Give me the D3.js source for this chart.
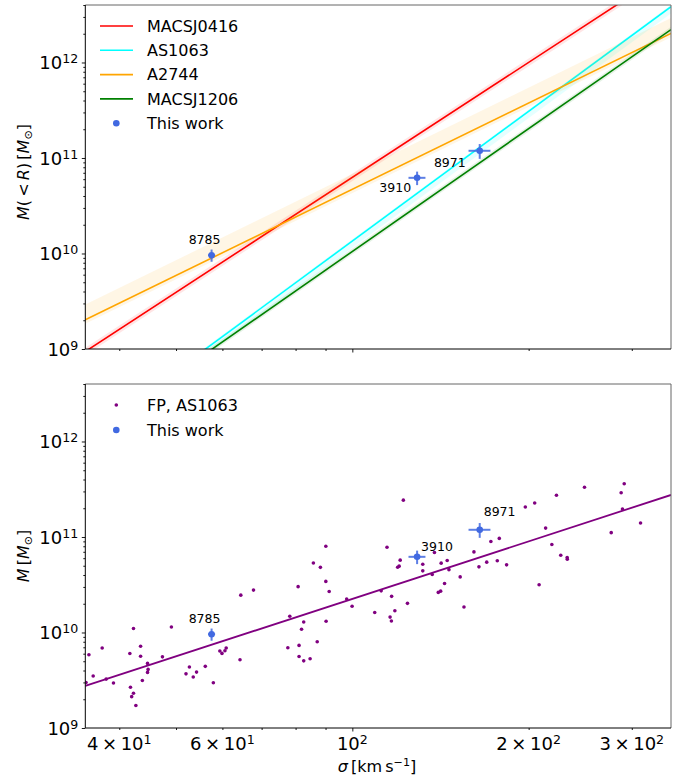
<!doctype html>
<html lang="en">
<head>
    <meta charset="utf-8">
    <title>M - sigma</title>
    <style type="text/css">
        html, body {
            margin: 0;
            background-color: #fff;
        }
        svg {
            font-family: "DejaVu Sans", sans-serif;
        }
    </style>
</head>
<body>
    <svg id="chart" width="687" height="782"></svg>

    <script src="https://cdn.jsdelivr.net/npm/d3@7"></script>
    <script>
        // scaling relations of the lens models (M at sigma = 100 km/s, log slope, band in dex)
        const relNames = ["MACSJ0416", "AS1063", "A2744", "MACSJ1206"];
        const relColors = ["red", "cyan", "orange", "green"];
        const relSlope = [4.0, 4.51, 3.0, 4.27];
        const relMassAt100 = [6.27e10, 1.35e10, 4.71e10, 1.05e10];
        const relBandLow = [0.04, 0.07, 0.04, 0.03];
        const relBandHigh = [0.04, 0.02, 0.16, 0.03];

        // our galaxies
        const objNames = ["8785", "3910", "8971"];
        const objSigma = [57.5, 129, 165];
        const objSigmaErr = [0.8, 4.3, 7.1];
        const objMass = [9.6e9, 6.2e10, 1.19e11];
        const objMassErr = [1.4e9, 1.0e10, 2.1e10];

        // fundamental plane masses, AS1063
        const fpSigma = [
            35.1, 35.5, 36.1, 37.4, 38.0, 39.1, 41.7, 42.3, 41.8, 42.3,
            42.0, 42.7, 43.5, 43.5, 43.8, 44.7, 44.8, 44.7, 47.4, 49.1,
            52.0, 52.7, 53.5, 54.2, 56.1, 57.9, 59.4, 59.9, 60.6, 60.9,
            64.3, 64.5, 67.8, 77.6, 78.2, 80.8, 81.1, 81.1, 81.9, 82.6,
            82.6, 84.7, 85.8, 87.1, 88.2, 90.1, 90.1, 90.2, 91.3, 97.8,
            99.9, 109.2, 112.0, 114.6, 116.0, 116.6, 116.7, 118.2, 119.5, 120.2,
            120.7, 122.2, 124.2, 131.9, 131.9, 136.9, 138.1, 140.2, 141.5, 141.8,
            143.7, 145.2, 146.2, 152.8, 155.1, 161.3, 164.5, 169.6, 172.4, 176.8,
            178.2, 183.4, 197.4, 204.8, 208.4, 213.8, 219.1, 223.1, 226.9, 232.7,
            232.8, 249.1, 276.7, 287.7, 289.2, 291.2, 310.5
        ];
        const fpMass = [
            3.0e9, 5.85e9, 3.5e9, 6.87e9, 3.25e9, 2.96e9, 6.02e9, 1.10e10, 2.67e9, 2.31e9,
            2.13e9, 1.72e9, 7.17e9, 5.64e9, 3.14e9, 4.75e9, 4.11e9, 3.82e9, 5.56e9, 1.14e10,
            3.69e9, 4.35e9, 3.42e9, 3.85e9, 4.42e9, 2.98e9, 6.39e9, 6.04e9, 6.44e9, 6.87e9,
            5.18e9, 2.46e10, 2.78e10, 6.92e9, 1.48e10, 3.02e10, 7.33e9, 5.6e9, 1.08e10, 1.29e10,
            5.05e9, 5.31e9, 5.35e10, 7.99e9, 4.81e10, 8.01e10, 3.43e10, 1.31e10, 2.69e10, 2.24e10,
            1.88e10, 1.62e10, 2.73e10, 7.82e10, 1.45e10, 1.32e10, 2.39e10, 1.69e10, 4.83e10, 4.95e10,
            5.72e10, 2.43e11, 2.02e10, 5.19e10, 4.42e10, 4.05e10, 6.88e10, 2.63e10, 2.71e10, 5.32e10,
            3.26e10, 5.68e10, 4.55e10, 3.82e10, 1.85e10, 6.98e10, 4.87e10, 5.45e10, 8.97e10, 5.65e10,
            9.67e10, 5.11e10, 2.06e11, 2.27e11, 3.16e10, 1.24e11, 8.35e10, 2.74e11, 6.45e10, 6.10e10,
            5.86e10, 3.32e11, 1.11e11, 2.91e11, 1.96e11, 3.61e11, 1.40e11
        ];
        const fpSlope = 2.0;
        const fpMassAt100 = 2.25e10;

        // axes
        const sigmaRange = [35, 350];
        const massRange = [1e9, 4e12];
        const yTickVals = [1e9, 1e10, 1e11, 1e12];
        const yTickExp = ["9", "10", "11", "12"];
        const xTickVals = [40, 60, 100, 200, 300];
        const xTickMant = ["4", "6", "", "2", "3"];
        const xTickExp = ["1", "1", "2", "2", "2"];
        const xMinorVals = [40, 50, 60, 70, 80, 90, 200, 300];

        const svg = d3.select("#chart");
        const left = 85.3, right = 671;
        const tickFont = 18;

        const x = d3.scaleLog().domain(sigmaRange).range([left, right]);

        let yMinor = [];
        yTickVals.forEach(v => {
            for (let k = 2; k < 10; k++) {
                if (v * k <= massRange[1]) yMinor.push(v * k);
            }
        });

        function relMass(i, s, off) {
            return relMassAt100[i] * Math.pow(s / 100, relSlope[i]) * Math.pow(10, off);
        }

        function expText(text, mant, exp) {
            text.text(null);
            text.append("tspan").text(mant ? mant + "\u2009\u00d7\u200910" : "10");
            text.append("tspan").attr("font-size", "0.7em").attr("dy", "-0.5em").text(exp);
        }

        function drawPanel(top, bottom, id, showXLabels) {
            let y = d3.scaleLog().domain(massRange).range([bottom, top]);
            let g = svg.append("g");

            g.append("clipPath").attr("id", id)
                .append("rect")
                .attr("x", left).attr("y", top)
                .attr("width", right - left).attr("height", bottom - top);

            // ticks
            let yMaj = g.append("g").attr("transform", `translate(${left},0)`)
                .call(d3.axisLeft(y).tickValues(yTickVals).tickSize(3.5).tickFormat(""));
            let yMin = g.append("g").attr("transform", `translate(${left},0)`)
                .call(d3.axisLeft(y).tickValues(yMinor).tickSize(2).tickFormat(""));
            let xMaj = g.append("g").attr("transform", `translate(0,${bottom})`)
                .call(d3.axisBottom(x).tickValues([100]).tickSize(3.5).tickFormat(""));
            let xMin = g.append("g").attr("transform", `translate(0,${bottom})`)
                .call(d3.axisBottom(x).tickValues(xMinorVals).tickSize(2).tickFormat(""));
            [yMaj, yMin, xMaj, xMin].forEach(a => {
                a.select(".domain").remove();
                a.selectAll("line").attr("stroke", "#000").attr("stroke-width", 0.9);
            });

            g.selectAll(".ylab")
                .data(yTickVals)
                .enter().append("text")
                .attr("x", left - 7)
                .attr("y", d => y(d) + 7)
                .attr("text-anchor", "end")
                .attr("font-size", tickFont)
                .each(function(d, i) { expText(d3.select(this), "", yTickExp[i]); });

            if (showXLabels) {
                g.selectAll(".xlab")
                    .data(xTickVals)
                    .enter().append("text")
                    .attr("x", d => x(d))
                    .attr("y", bottom + 22)
                    .attr("text-anchor", "middle")
                    .attr("font-size", tickFont)
                    .each(function(d, i) { expText(d3.select(this), xTickMant[i], xTickExp[i]); });
            }

            let plot = g.append("g").attr("clip-path", `url(#${id})`);
            return { g: g, plot: plot, y: y, top: top, bottom: bottom };
        }

        function drawFrame(p) {
            let f = p.g.append("g").attr("fill", "none");
            f.append("line").attr("x1", left).attr("x2", right).attr("y1", p.top).attr("y2", p.top)
                .attr("stroke", "#666");
            f.append("line").attr("x1", right).attr("x2", right).attr("y1", p.top).attr("y2", p.bottom)
                .attr("stroke", "#666");
            f.append("line").attr("x1", left).attr("x2", left).attr("y1", p.top).attr("y2", p.bottom)
                .attr("stroke", "#000");
            f.append("line").attr("x1", left).attr("x2", right).attr("y1", p.bottom).attr("y2", p.bottom)
                .attr("stroke", "#000");
        }

        function drawObjects(p, labelOffsets) {
            let o = p.plot.append("g");
            objSigma.forEach((s, i) => {
                o.append("line")
                    .attr("x1", x(s - objSigmaErr[i])).attr("x2", x(s + objSigmaErr[i]))
                    .attr("y1", p.y(objMass[i])).attr("y2", p.y(objMass[i]))
                    .attr("stroke", "royalblue").attr("stroke-width", 2).attr("opacity", 0.85);
                o.append("line")
                    .attr("x1", x(s)).attr("x2", x(s))
                    .attr("y1", p.y(objMass[i] - objMassErr[i])).attr("y2", p.y(objMass[i] + objMassErr[i]))
                    .attr("stroke", "royalblue").attr("stroke-width", 2).attr("opacity", 0.85);
                o.append("circle")
                    .attr("cx", x(s)).attr("cy", p.y(objMass[i])).attr("r", 3.3)
                    .attr("fill", "royalblue");
                o.append("text")
                    .attr("x", x(s) + labelOffsets[i][0])
                    .attr("y", p.y(objMass[i]) + labelOffsets[i][1])
                    .attr("text-anchor", labelOffsets[i][2])
                    .attr("font-size", 12.5)
                    .text(objNames[i]);
            });
        }

        // ---------- top panel ----------
        let topP = drawPanel(5, 349, "clipTop", false);

        relNames.forEach((name, i) => {
            let band = d3.area()
                .x(s => x(s))
                .y0(s => topP.y(relMass(i, s, -relBandLow[i])))
                .y1(s => topP.y(relMass(i, s, relBandHigh[i])));
            topP.plot.append("path")
                .datum(sigmaRange)
                .attr("d", band)
                .attr("fill", relColors[i])
                .attr("fill-opacity", 0.1);
            let line = d3.line()
                .x(s => x(s))
                .y(s => topP.y(relMass(i, s, 0)));
            topP.plot.append("path")
                .datum(sigmaRange)
                .attr("d", line)
                .attr("fill", "none")
                .attr("stroke", relColors[i])
                .attr("stroke-width", 1.6);
        });

        drawObjects(topP, [[-7, -11, "middle"], [-6, 14, "end"], [-14, 16, "end"]]);
        drawFrame(topP);

        // legend
        let leg = topP.g.append("g").attr("font-size", 16);
        relNames.forEach((name, i) => {
            let ly = 26 + i * 24.3;
            leg.append("line").attr("x1", 100).attr("x2", 133).attr("y1", ly).attr("y2", ly)
                .attr("stroke", relColors[i]).attr("stroke-width", 1.6);
            leg.append("text").attr("x", 147).attr("y", ly).attr("dy", "0.36em").text(name);
        });
        leg.append("circle").attr("cx", 116.3).attr("cy", 26 + 4 * 24.3).attr("r", 3.3).attr("fill", "royalblue");
        leg.append("text").attr("x", 147).attr("y", 26 + 4 * 24.3).attr("dy", "0.36em").text("This work");

        // y label
        let yl1 = topP.g.append("text")
            .attr("transform", "translate(29,172) rotate(-90)")
            .attr("text-anchor", "middle")
            .attr("font-size", 16);
        yl1.append("tspan").attr("font-style", "italic").text("M");
        yl1.append("tspan").text("(\u2009<\u2009");
        yl1.append("tspan").attr("font-style", "italic").text("R");
        yl1.append("tspan").text(")\u2009[");
        yl1.append("tspan").attr("font-style", "italic").text("M");
        yl1.append("tspan").attr("font-size", "0.7em").attr("dy", "0.3em").text("\u2299");
        yl1.append("tspan").attr("dy", "-0.21em").text("]");

        // ---------- bottom panel ----------
        let botP = drawPanel(384, 728, "clipBot", true);

        botP.plot.append("g")
            .selectAll("circle")
            .data(fpSigma)
            .enter().append("circle")
            .attr("cx", d => x(d))
            .attr("cy", (d, i) => botP.y(fpMass[i]))
            .attr("r", 1.8)
            .attr("fill", "purple");

        let fpLine = d3.line()
            .x(s => x(s))
            .y(s => botP.y(fpMassAt100 * Math.pow(s / 100, fpSlope)));
        botP.plot.append("path")
            .datum(sigmaRange)
            .attr("d", fpLine)
            .attr("fill", "none")
            .attr("stroke", "purple")
            .attr("stroke-width", 1.8);

        drawObjects(botP, [[-7, -11, "middle"], [4, -6, "start"], [4, -14, "start"]]);
        drawFrame(botP);

        let leg2 = botP.g.append("g").attr("font-size", 16);
        leg2.append("circle").attr("cx", 116.3).attr("cy", 405).attr("r", 1.8).attr("fill", "purple");
        leg2.append("text").attr("x", 147).attr("y", 405).attr("dy", "0.36em").text("FP, AS1063");
        leg2.append("circle").attr("cx", 116.3).attr("cy", 430).attr("r", 3.3).attr("fill", "royalblue");
        leg2.append("text").attr("x", 147).attr("y", 430).attr("dy", "0.36em").text("This work");

        let yl2 = botP.g.append("text")
            .attr("transform", "translate(29,556) rotate(-90)")
            .attr("text-anchor", "middle")
            .attr("font-size", 16);
        yl2.append("tspan").attr("font-style", "italic").text("M");
        yl2.append("tspan").text("\u2009[");
        yl2.append("tspan").attr("font-style", "italic").text("M");
        yl2.append("tspan").attr("font-size", "0.7em").attr("dy", "0.3em").text("\u2299");
        yl2.append("tspan").attr("dy", "-0.21em").text("]");

        // x label
        let xl = svg.append("text")
            .attr("x", 377).attr("y", 772)
            .attr("text-anchor", "middle")
            .attr("font-size", 16);
        xl.append("tspan").attr("font-style", "italic").text("\u03c3");
        xl.append("tspan").text("\u2009[km\u2009s");
        xl.append("tspan").attr("font-size", "0.7em").attr("dy", "-0.55em").text("\u22121");
        xl.append("tspan").attr("dy", "0.385em").text("]");
    </script>
</body>
</html>
